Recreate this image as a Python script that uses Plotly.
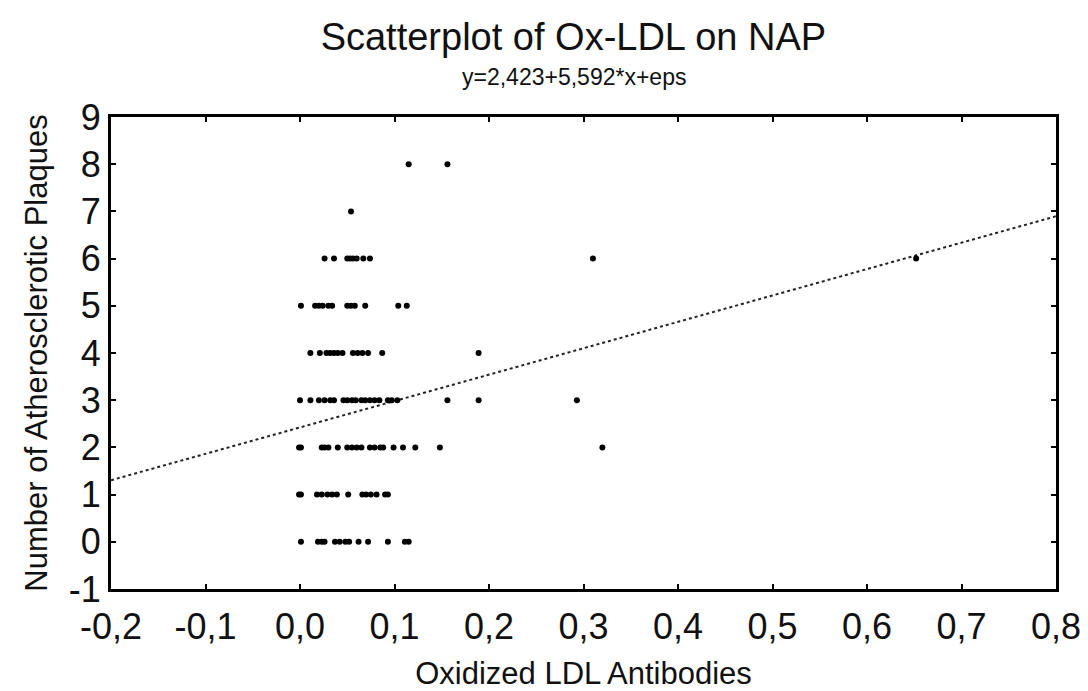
import plotly.graph_objects as go

# Data (x = Oxidized LDL antibodies, grouped by number of plaques)
x_y0 = [0.001, 0.019, 0.023, 0.026, 0.037, 0.042, 0.048, 0.052, 0.062, 0.072, 0.093, 0.111, 0.115]
x_y1 = [-0.001, 0.001, 0.018, 0.023, 0.029, 0.034, 0.039, 0.051, 0.066, 0.070, 0.075, 0.081, 0.090, 0.093]
x_y2 = [-0.001, 0.001, 0.023, 0.026, 0.030, 0.040, 0.050, 0.055, 0.060, 0.065, 0.074, 0.079, 0.085, 0.088,
        0.099, 0.109, 0.122, 0.148, 0.320]
x_y3 = [0.000, 0.011, 0.020, 0.026, 0.032, 0.036, 0.046, 0.050, 0.055, 0.059, 0.065, 0.069, 0.074, 0.079,
        0.084, 0.093, 0.097, 0.103, 0.156, 0.189, 0.293]
x_y4 = [0.011, 0.021, 0.028, 0.032, 0.036, 0.040, 0.045, 0.056, 0.061, 0.066, 0.072, 0.087, 0.189]
x_y5 = [0.001, 0.016, 0.020, 0.024, 0.030, 0.034, 0.050, 0.054, 0.058, 0.069, 0.104, 0.113]
x_y6 = [0.026, 0.036, 0.050, 0.053, 0.056, 0.060, 0.067, 0.074, 0.310, 0.652]
x_y7 = [0.054]
x_y8 = [0.115, 0.156]
plaque_levels = [0, 1, 2, 3, 4, 5, 6, 7, 8]

intercept = 2.423
slope = 5.592
line_x = [-0.2, 0.8]

x_ticks = [-0.2, -0.1, 0.0, 0.1, 0.2, 0.3, 0.4, 0.5, 0.6, 0.7, 0.8]
x_ticklabels = ["-0,2", "-0,1", "0,0", "0,1", "0,2", "0,3", "0,4", "0,5", "0,6", "0,7", "0,8"]
y_ticks = [-1, 0, 1, 2, 3, 4, 5, 6, 7, 8, 9]
y_ticklabels = ["-1", "0", "1", "2", "3", "4", "5", "6", "7", "8", "9"]

groups = [x_y0, x_y1, x_y2, x_y3, x_y4, x_y5, x_y6, x_y7, x_y8]
xs, ys = [], []
for lvl, g in zip(plaque_levels, groups):
    xs += g
    ys += [lvl] * len(g)

FONT = "Liberation Sans, Arial, sans-serif"
INK = "#111111"

fig = go.Figure()
fig.add_trace(go.Scatter(
    x=line_x, y=[intercept + slope * v for v in line_x], mode="lines",
    line=dict(color="#222222", width=2, dash="dot"), hoverinfo="skip", showlegend=False))
fig.add_trace(go.Scatter(
    x=xs, y=ys, mode="markers",
    marker=dict(color="black", size=6, symbol="circle"), showlegend=False))

fig.update_layout(
    width=1088, height=691,
    margin=dict(l=111, r=32, t=117, b=102, autoexpand=False),
    paper_bgcolor="white", plot_bgcolor="white",
    font=dict(family=FONT, color=INK),
    title=dict(text="Scatterplot of Ox-LDL on NAP", x=0.527, xanchor="center",
               y=1 - 37 / 691, yanchor="middle", font=dict(size=38, color=INK)),
    annotations=[dict(text="y=2,423+5,592*x+eps", xref="paper", yref="paper",
                      x=0.49, y=(589 - 77) / 472, xanchor="center", yanchor="middle",
                      showarrow=False, font=dict(size=23, color=INK))],
)
fig.update_xaxes(
    range=[-0.2, 0.8], tickvals=x_ticks, ticktext=x_ticklabels, automargin=False,
    showgrid=False, zeroline=False, showline=True, linecolor="black", linewidth=3,
    mirror="allticks", ticks="inside", ticklen=5, tickwidth=2, tickcolor="black",
    tickfont=dict(size=36, color=INK), ticklabelstandoff=4,
    title=dict(text="Oxidized LDL Antibodies", font=dict(size=31, color=INK), standoff=20))
fig.update_yaxes(
    range=[-1, 9], tickvals=y_ticks, ticktext=y_ticklabels, automargin=False,
    showgrid=False, zeroline=False, showline=True, linecolor="black", linewidth=3,
    mirror="allticks", ticks="inside", ticklen=5, tickwidth=2, tickcolor="black",
    tickfont=dict(size=36, color=INK),
    title=dict(text="Number of Atherosclerotic Plaques", font=dict(size=31, color=INK), standoff=12))

fig.write_html("out.html")
